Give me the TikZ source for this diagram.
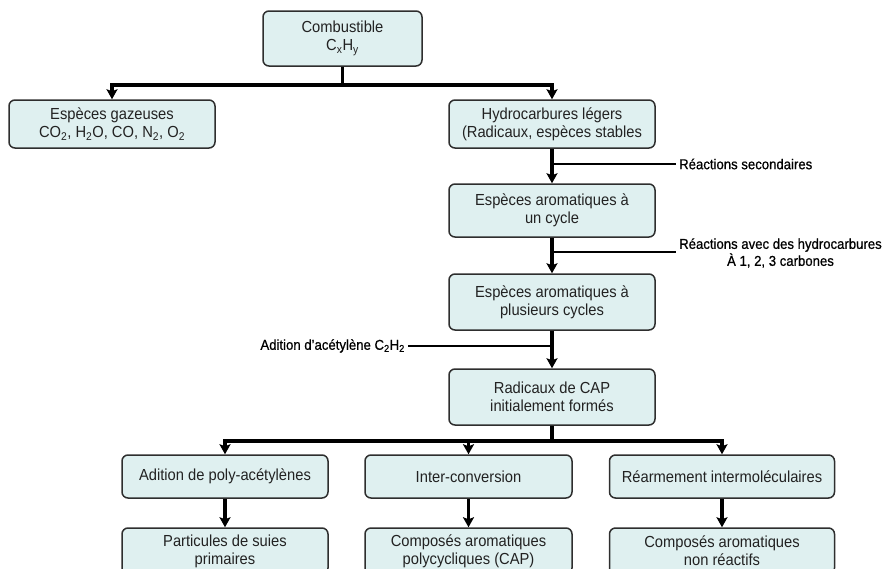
\documentclass[tikz,border=0pt]{standalone}
\usepackage{fontspec}
\setmainfont[FakeStretch=0.92]{Liberation Sans}
\newfontfamily\lblfont[FakeStretch=0.92,FakeBold=0.7]{Liberation Sans}
\usetikzlibrary{arrows.meta}
\definecolor{boxfill}{HTML}{DFF0F0}
\definecolor{boxdraw}{HTML}{2E2E2E}
\definecolor{txt}{HTML}{222222}
\tikzset{
  box/.style={draw=boxdraw, fill=boxfill, line width=1.5pt, rounded corners=6pt,
    align=center, text=txt, inner sep=0pt, minimum width=206pt,
    font=\fontsize{16}{18}\selectfont},
  conn/.style={line width=3.2pt, draw=black},
  arr/.style={conn, -{Stealth[length=10pt,width=11pt,inset=2pt]}},
  branch/.style={line width=1.5pt, draw=black},
  lbl/.style={font=\lblfont\fontsize{14.3}{17}\selectfont, text=black, inner sep=3pt, align=center}
}
\begin{document}
\begin{tikzpicture}[x=1pt,y=-1pt]
\useasboundingbox (0,0) rectangle (883,568);
% boxes
\node[box, minimum width=159pt, minimum height=55pt] (comb) at (342.5,38.5) {Combustible\\C\textsubscript{x}H\textsubscript{y}};
\node[box, minimum height=48pt] (gaz) at (112,124) {Espèces gazeuses\\CO\textsubscript{2}, H\textsubscript{2}O, CO, N\textsubscript{2}, O\textsubscript{2}};
\node[box, minimum height=48pt] (hyd) at (552,124) {Hydrocarbures légers\\(Radicaux, espèces stables};
\node[box, minimum height=53pt] (arom1) at (552,210.5) {Espèces aromatiques à\\un cycle};
\node[box, minimum height=56pt] (arom2) at (552,302) {Espèces aromatiques à\\plusieurs cycles};
\node[box, minimum height=56pt] (rad) at (552,397) {Radicaux de CAP\\initialement formés};
\node[box, minimum height=43pt] (add) at (225,476.5) {Adition de poly-acétylènes};
\node[box, minimum width=207pt, minimum height=43pt] (inter) at (468.5,476.5) {Inter-conversion};
\node[box, minimum width=225pt, minimum height=43pt] (rearr) at (722,476.5) {Réarmement intermoléculaires};
\node[box, minimum height=46pt] (part) at (225,551) {Particules de suies\\primaires};
\node[box, minimum width=207pt, minimum height=46pt] (comp) at (468.5,551) {Composés aromatiques\\polycycliques (CAP)};
\node[box, minimum width=225pt, minimum height=46pt] (nonr) at (722,551) {Composés aromatiques\\non réactifs};
% junctions
\coordinate (j1) at (342.5,85);
\coordinate (j2) at (552,441);
\draw[conn] (comb.south) -- (j1);
\draw[arr] (j1) -| (gaz.north);
\draw[arr] (j1) -| (hyd.north);
\draw[arr] (hyd.south) -- (arom1.north);
\draw[arr] (arom1.south) -- (arom2.north);
\draw[arr] (arom2.south) -- (rad.north);
\draw[conn] (rad.south) -- (j2);
\draw[arr] (j2) -| (add.north);
\draw[arr] (j2) -| (inter.north);
\draw[arr] (j2) -| (rearr.north);
\draw[arr] (add.south) -- (part.north);
\draw[arr] (inter.south) -- (comp.north);
\draw[arr] (rearr.south) -- (nonr.north);
% side branches
\coordinate (b1) at (552,164);
\coordinate (b2) at (552,252);
\coordinate (b3) at (552,346);
\node[lbl, anchor=west] (l1) at (676,164) {Réactions secondaires};
\node[lbl, anchor=west] (l2) at (676,253) {Réactions avec des hydrocarbures\\À 1, 2, 3 carbones};
\node[lbl, anchor=east] (l3) at (408,346) {Adition d’acétylène C\textsubscript{2}H\textsubscript{2}};
\draw[branch] (b1) -- (l1.west);
\draw[branch] (b2) -- (l2.west |- b2);
\draw[branch] (b3) -- (l3.east);
\end{tikzpicture}
\end{document}
